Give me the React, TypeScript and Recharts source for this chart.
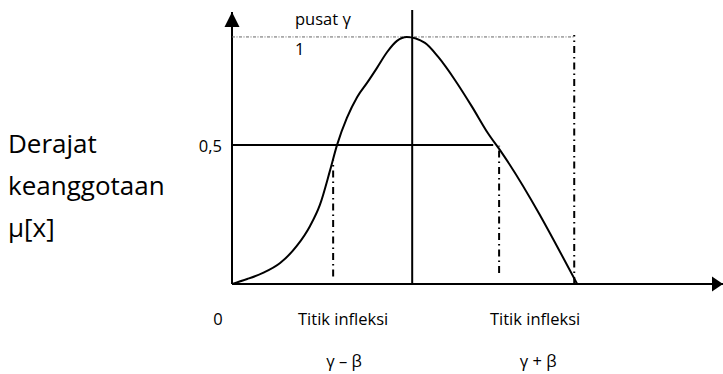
import React from "react";
import { ComposedChart, Line, XAxis, YAxis, ReferenceLine, ReferenceDot } from "recharts";

// membership curve (x in arbitrary universe units, y = membership degree)
const curveX = [0, 0.31, 0.63, 0.98, 1.32, 1.59, 1.79, 2.0, 2.14, 2.34, 2.55, 2.75, 2.95, 3.16, 3.36, 3.56, 3.93, 4.2, 4.54, 4.89, 5.21, 5.5, 7.03];
const curveY = [0, 0.02, 0.045, 0.085, 0.154, 0.235, 0.32, 0.462, 0.563, 0.672, 0.757, 0.814, 0.874, 0.939, 0.984, 1.0, 0.976, 0.919, 0.826, 0.717, 0.611, 0.53, 0];

// key positions
const axisEndX = 10;
const axisTopY = 1.101;
const centerX = 3.67; // pusat γ
const centerTopY = 1.109;
const inflexLeft = 2.06; // γ − β
const inflexRight = 5.44; // γ + β
const supportEnd = 6.97;
const halfLevel = 0.563;
const halfLineEnd = 5.32;

// labels
const yAxisTitle = ["Derajat", "keanggotaan", "μ[x]"];
const yTickLabels = ["1", "0,5"];
const xTickLabels = ["0", "Titik infleksi", "Titik infleksi"];
const xSubLabels = ["γ – β", "γ + β"];
const centerLabel = "pusat  γ";

const data = curveX.map((x, i) => ({ x, y: curveY[i] }));

const FONT = "'Open Sans', 'Noto Sans', sans-serif";
const SMALL = 16.5;
const BIG = 26;

const txt = (s: string, dx: number, dy: number, anchor: "start" | "middle" | "end", size: number) =>
  (props: any) => (
    <text x={props.cx + dx} y={props.cy + dy} textAnchor={anchor} fontFamily={FONT} fontSize={size} fill="#000">
      {s}
    </text>
  );

const dashDot = "7 4 1.5 4";

export default function App() {
  return (
    <div style={{ position: "absolute", left: 0, top: 0, width: 723, height: 374, background: "#fff" }}>
      <ComposedChart width={723} height={374} data={data} margin={{ top: 12, right: 0, bottom: 90, left: 232 }}>
        <XAxis type="number" dataKey="x" domain={[0, axisEndX]} hide allowDataOverflow />
        <YAxis type="number" domain={[0, axisTopY]} hide allowDataOverflow />

        {/* axes */}
        <ReferenceLine segment={[{ x: 0, y: 0 }, { x: axisEndX, y: 0 }]} stroke="#000" strokeWidth={2} ifOverflow="visible" />
        <ReferenceLine segment={[{ x: 0, y: 0 }, { x: 0, y: axisTopY }]} stroke="#000" strokeWidth={2} ifOverflow="visible" />

        <ReferenceLine segment={[{ x: 0, y: 1 }, { x: supportEnd, y: 1 }]} stroke="#666" strokeWidth={1} strokeDasharray="3 1.5 1 1.5" ifOverflow="visible" />
        <ReferenceLine segment={[{ x: 0, y: halfLevel }, { x: halfLineEnd, y: halfLevel }]} stroke="#000" strokeWidth={2} ifOverflow="visible" />
        <ReferenceLine segment={[{ x: centerX, y: 0 }, { x: centerX, y: centerTopY }]} stroke="#000" strokeWidth={2} ifOverflow="visible" />
        <ReferenceLine segment={[{ x: inflexLeft, y: 0.03 }, { x: inflexLeft, y: 0.5 }]} stroke="#000" strokeWidth={2} strokeDasharray={dashDot} ifOverflow="visible" />
        <ReferenceLine segment={[{ x: inflexRight, y: 0.045 }, { x: inflexRight, y: 0.56 }]} stroke="#000" strokeWidth={2} strokeDasharray={dashDot} ifOverflow="visible" />
        <ReferenceLine segment={[{ x: supportEnd, y: 0 }, { x: supportEnd, y: 1.008 }]} stroke="#000" strokeWidth={2} strokeDasharray={dashDot} ifOverflow="visible" />

        <Line type="monotone" dataKey="y" stroke="#000" strokeWidth={2} dot={false} isAnimationActive={false} />

        {/* axis arrows */}
        <ReferenceDot x={0} y={axisTopY} r={0} ifOverflow="visible"
          shape={(p: any) => <polygon points={`${p.cx},${p.cy} ${p.cx - 7.5},${p.cy + 15} ${p.cx + 7.5},${p.cy + 15}`} fill="#000" />} />
        <ReferenceDot x={axisEndX} y={0} r={0} ifOverflow="visible"
          shape={(p: any) => <polygon points={`${p.cx},${p.cy} ${p.cx - 11},${p.cy - 7.5} ${p.cx - 11},${p.cy + 7.5}`} fill="#000" />} />

        {/* y-axis title */}
        <ReferenceDot x={0} y={halfLevel} r={0} ifOverflow="visible" shape={txt(yAxisTitle[0], -224, 8, "start", BIG)} />
        <ReferenceDot x={0} y={halfLevel} r={0} ifOverflow="visible" shape={txt(yAxisTitle[1], -224, 50, "start", BIG)} />
        <ReferenceDot x={0} y={halfLevel} r={0} ifOverflow="visible" shape={txt(yAxisTitle[2], -224, 92, "start", BIG)} />

        {/* texts */}
        <ReferenceDot x={0} y={1} r={0} ifOverflow="visible" shape={txt(centerLabel, 63, -12, "start", SMALL)} />
        <ReferenceDot x={0} y={1} r={0} ifOverflow="visible" shape={txt(yTickLabels[0], 63, 18, "start", SMALL)} />
        <ReferenceDot x={0} y={halfLevel} r={0} ifOverflow="visible" shape={txt(yTickLabels[1], -10, 7, "end", SMALL)} />
        <ReferenceDot x={0} y={0} r={0} ifOverflow="visible" shape={txt(xTickLabels[0], -14, 41, "middle", SMALL)} />
        <ReferenceDot x={inflexLeft} y={0} r={0} ifOverflow="visible" shape={txt(xTickLabels[1], 10, 41, "middle", SMALL)} />
        <ReferenceDot x={inflexRight} y={0} r={0} ifOverflow="visible" shape={txt(xTickLabels[2], 36, 41, "middle", SMALL)} />
        <ReferenceDot x={inflexLeft} y={0} r={0} ifOverflow="visible" shape={txt(xSubLabels[0], 11, 83, "middle", SMALL)} />
        <ReferenceDot x={inflexRight} y={0} r={0} ifOverflow="visible" shape={txt(xSubLabels[1], 39, 83, "middle", SMALL)} />
      </ComposedChart>
    </div>
  );
}
